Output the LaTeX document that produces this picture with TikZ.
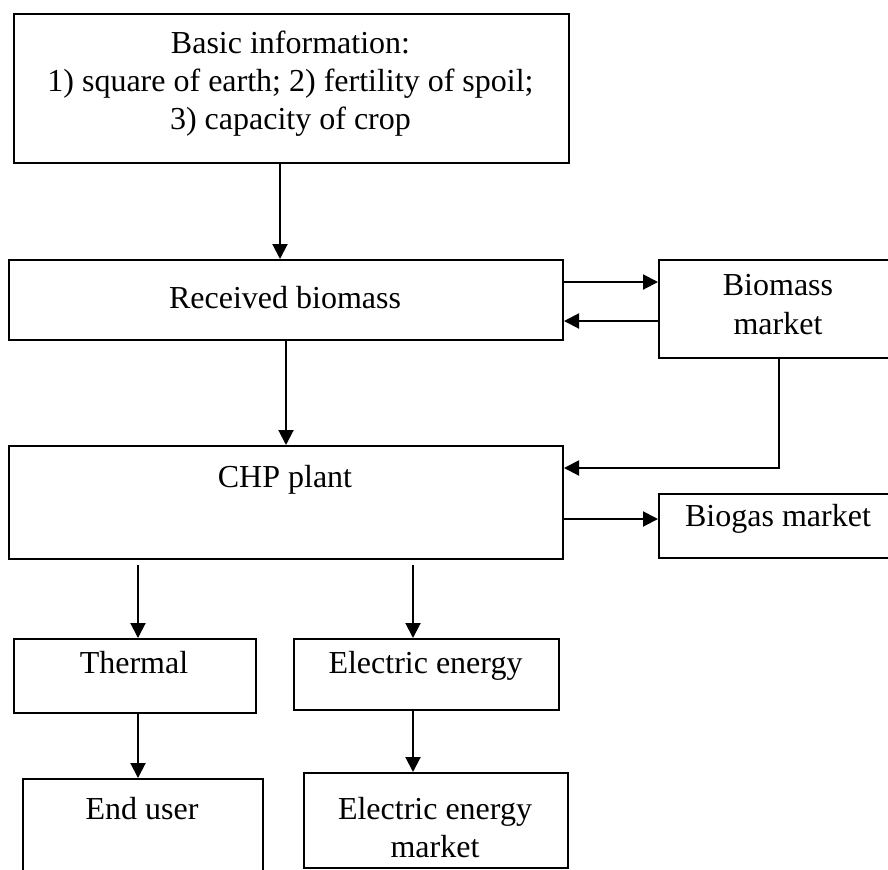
\documentclass[tikz,border=0pt]{standalone}
\usepackage{fontspec}
\setmainfont{Liberation Serif}
\usetikzlibrary{arrows.meta}
\begin{document}
\begin{tikzpicture}[x=0.5pt,y=-0.5pt,
  box/.style={draw, line width=1pt, inner sep=0pt, anchor=north west},
  txt/.style={inner sep=0pt, align=center, font=\fontsize{16pt}{19pt}\selectfont},
  arr/.style={line width=1pt, -{Triangle[length=7.5pt,width=7.5pt]}},
  ln/.style={line width=1pt}]
\useasboundingbox (0,0) rectangle (888,869);
\clip (0,0) rectangle (888,869);
% boxes
\node[box, minimum width=277.5pt, minimum height=74.5pt] (top) at (13,13) {};
\node[box, minimum width=277pt, minimum height=40pt] (recv) at (8,259) {};
\node[box, minimum width=120pt, minimum height=49pt] (bmk) at (658,259) {};
\node[box, minimum width=277pt, minimum height=56.5pt] (chp) at (8,445) {};
\node[box, minimum width=120pt, minimum height=32pt] (bgm) at (658,493) {};
\node[box, minimum width=121pt, minimum height=37pt] (therm) at (13,638) {};
\node[box, minimum width=132.5pt, minimum height=35.5pt] (elec) at (293,638) {};
\node[box, minimum width=120pt, minimum height=56pt] (enduser) at (22,778) {};
\node[box, minimum width=132pt, minimum height=47.5pt] (elmk) at (303,772) {};
% texts
\node[txt] (toptxt) at (290.5,84) {Basic information:\\1) square of earth; 2) fertility of spoil;\\3) capacity of crop};
\node[txt] (recvtxt) at (285,298) {Received biomass};
\node[txt, font=\fontsize{16pt}{19.5pt}\selectfont] (bmktxt) at (778,305) {Biomass\\market};
\node[txt, anchor=base] (chptxt) at (285,487) {CHP plant};
\node[txt] (bgmtxt) at (778,519) {Biogas market};
\node[txt, anchor=base] (thermtxt) at (134,673) {Thermal};
\node[txt, anchor=base] (electxt) at (425.5,673) {Electric energy};
\node[txt] (endtxt) at (142,809) {End user};
\node[txt] (elmktxt) at (435,828) {Electric energy\\market};
% connectors
\draw[arr] ([xshift=-5.75pt]top.south) -- ([xshift=-5.75pt]top.south |- recv.north);
\draw[arr] ([yshift=-11.5pt]recv.north east) -- ([yshift=-11.5pt]recv.north east -| bmk.west);
\draw[arr] ([yshift=-31pt]bmk.north west) -- ([yshift=-31pt]bmk.north west -| recv.east);
\draw[arr] (bmk.south) |- ([yshift=-11.5pt]chp.north east);
\draw[arr] (recv.south) -- (chp.north);
\draw[arr] ([yshift=3.5pt]bgm.west -| chp.east) -- ([yshift=3.5pt]bgm.west);
\coordinate (t0) at (138,565);
\coordinate (e0) at (413,565);
\draw[arr] (t0) -- (t0 |- therm.north);
\draw[arr] (e0) -- (e0 |- elec.north);
\draw[arr] (t0 |- therm.south) -- (t0 |- enduser.north);
\draw[arr] (e0 |- elec.south) -- (e0 |- elmk.north);
\end{tikzpicture}
\end{document}
